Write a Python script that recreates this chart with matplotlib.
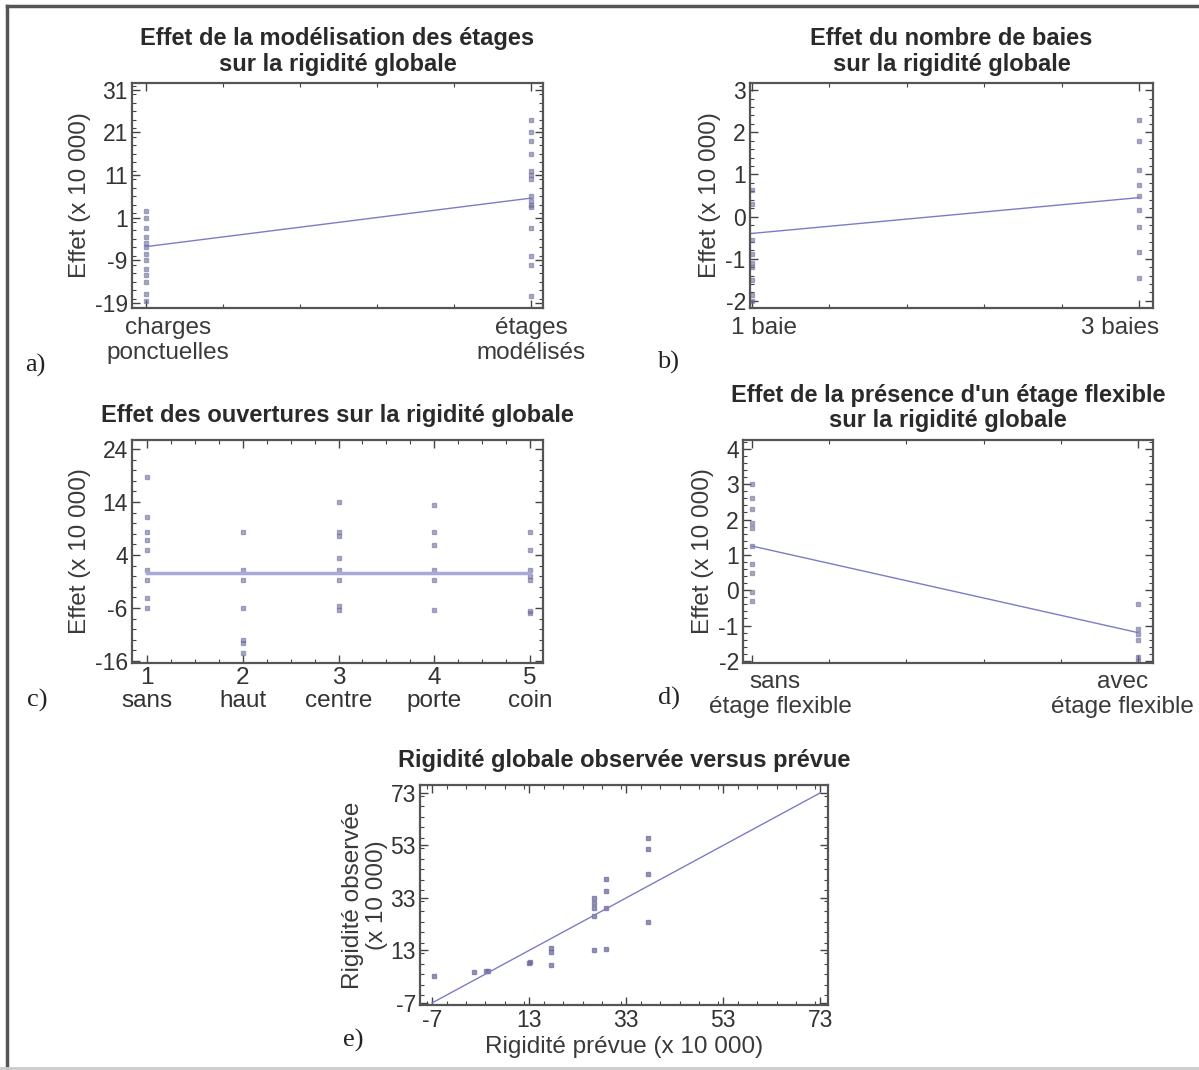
import matplotlib.pyplot as plt
from matplotlib.lines import Line2D
from matplotlib.ticker import MultipleLocator
import numpy as np

plt.rcParams['font.family'] = ['Liberation Sans', 'DejaVu Sans']
plt.rcParams['axes.unicode_minus'] = False

# a) modelisation des etages
a_left = [2.5, 1.0, -1.5, -3.5, -5.0, -6.0, -7.5, -9.0, -11.0, -12.5, -14.0, -17.0, -18.5]
a_right = [24.0, 21.0, 19.0, 16.0, 12.0, 11.0, 10.0, 6.0, 5.0, 4.0, 3.5, -1.5, -8.0, -10.0, -17.5]
a_fit = [-5.8, 5.6]

# b) nombre de baies
b_left = [0.62, 0.3, -0.55, -0.9, -1.1, -1.2, -1.5, -1.85, -2.0]
b_right = [2.3, 1.8, 1.1, 0.75, 0.5, 0.15, -0.25, -0.85, -1.45]
b_fit = [-0.4, 0.45]

# c) ouvertures
c_labels = ['sans', 'haut', 'centre', 'porte', 'coin']
c_points = [
    [18.7, 11.2, 8.4, 6.8, 5.0, 1.2, -0.7, -4.1, -6.0],
    [8.4, 1.2, -0.7, -6.0, -12.0, -12.6, -14.5],
    [14.0, 8.4, 7.5, 3.4, 1.2, -0.7, -5.7, -6.3],
    [13.4, 8.4, 5.9, 1.2, -0.7, -6.3],
    [8.4, 5.0, 1.2, 0.0, -0.7, -6.6, -7.0],
]
c_fit = 0.6

# d) etage flexible
d_left = [3.0, 2.6, 2.3, 1.9, 1.75, 1.25, 0.75, 0.5, -0.05, -0.3]
d_right = [-0.4, -1.1, -1.25, -1.4, -1.9, -2.0]
d_fit = [1.25, -1.2]

# e) observee vs prevue
e_pred = [-6.7, 1.7, 4.1, 4.6, 13.0, 13.2, 17.6, 17.6, 17.6, 26.3, 26.3, 26.3, 26.3, 26.3,
          28.8, 28.8, 28.8, 28.8, 37.5, 37.5, 37.5, 37.5]
e_obs = [3.1, 4.7, 5.1, 5.1, 8.3, 8.6, 13.8, 12.5, 7.5, 33.0, 31.0, 29.0, 26.0, 13.3,
         40.2, 35.6, 29.0, 13.6, 55.8, 51.7, 42.2, 24.0]
e_line = [-7, 73]

pt_color = '#6a6a9a'
ln_color = '#7c7cc6'
fs = 16.5   # tick labels
lfs = 17.5  # category labels / axis labels


def style_axes(ax, xmajor, xminor, ymajor, yminor):
    ax.xaxis.set_major_locator(MultipleLocator(xmajor))
    ax.xaxis.set_minor_locator(MultipleLocator(xminor))
    ax.yaxis.set_major_locator(MultipleLocator(ymajor))
    ax.yaxis.set_minor_locator(MultipleLocator(yminor))
    ax.tick_params(which='both', direction='in', top=True, right=True, colors='#444444',
                   labelcolor='#333333', labelsize=fs)
    ax.tick_params(which='major', length=6, width=1, pad=3)
    ax.tick_params(which='minor', length=3, width=0.8)
    for s in ax.spines.values():
        s.set_color('#555555')
        s.set_linewidth(1.6)


fig = plt.figure(figsize=(11.99, 10.70), dpi=100)
W, H = 1199, 1070


def add_axes(left, top, right, bottom):
    return fig.add_axes([left / W, 1 - bottom / H, (right - left) / W, (bottom - top) / H])


title_kw = dict(fontsize=17, fontweight='bold', color='#2a2a2a', linespacing=1.15)
lab_kw = dict(fontsize=lfs, color='#3a3a3a', linespacing=1.2)
ms = dict(marker='s', ls='none', ms=2.2, color=pt_color, alpha=0.55)

# ---- a ----
ax = add_axes(132, 83, 543, 308)
ax.plot([1] * len(a_left), a_left, **ms)
ax.plot([2] * len(a_right), a_right, **ms)
ax.plot([1, 2], a_fit, color=ln_color, lw=1)
ax.set_xlim(0.964, 2.03)
ax.set_ylim(-20.2, 32.6)
style_axes(ax, 1, 0.2, 10, 2)
ax.set_yticks([-19, -9, 1, 11, 21, 31])
ax.set_xticklabels([])
ax.set_ylabel('Effet (x 10 000)', fontsize=lfs, color='#3a3a3a', labelpad=3)
ax.set_title('Effet de la modélisation des étages\nsur la rigidité globale', pad=9, **title_kw)
tr = ax.get_xaxis_transform()
ax.text(1.057, -0.04, 'charges\nponctuelles', transform=tr, ha='center', va='top', **lab_kw)
ax.text(2.0, -0.04, 'étages\nmodélisés', transform=tr, ha='center', va='top', **lab_kw)

# ---- b ----
ax = add_axes(750, 83, 1153, 308)
ax.plot([1] * len(b_left), b_left, **ms)
ax.plot([2] * len(b_right), b_right, **ms)
ax.plot([1, 2], b_fit, color=ln_color, lw=1)
ax.set_xlim(0.995, 2.036)
ax.set_ylim(-2.17, 3.17)
style_axes(ax, 1, 0.2, 1, 0.2)
ax.set_xticklabels([])
ax.set_ylabel('Effet (x 10 000)', fontsize=lfs, color='#3a3a3a', labelpad=3)
ax.set_title('Effet du nombre de baies\nsur la rigidité globale', pad=9, **title_kw)
tr = ax.get_xaxis_transform()
ax.text(1.03, -0.04, '1 baie', transform=tr, ha='center', va='top', **lab_kw)
ax.text(1.95, -0.04, '3 baies', transform=tr, ha='center', va='top', **lab_kw)

# ---- c ----
ax = add_axes(132, 440, 543, 663)
for i, vals in enumerate(c_points):
    ax.plot([i + 1] * len(vals), vals, **ms)
ax.plot([1, 5], [c_fit, c_fit], color='#a8a8dc', lw=2.5)
ax.set_xlim(0.843, 5.136)
ax.set_ylim(-16.4, 25.7)
style_axes(ax, 1, 0.25, 10, 2)
ax.set_yticks([-16, -6, 4, 14, 24])
ax.set_xticks([1, 2, 3, 4, 5])
ax.set_xticklabels([f'{i + 1}\n{n}' for i, n in enumerate(c_labels)], linespacing=1.05,
                   fontsize=lfs)
ax.tick_params(axis='x', pad=3)
ax.set_ylabel('Effet (x 10 000)', fontsize=lfs, color='#3a3a3a', labelpad=3)
ax.set_title('Effet des ouvertures sur la rigidité globale', pad=13, **title_kw)

# ---- d ----
ax = add_axes(743, 440, 1153, 663)
ax.plot([1] * len(d_left), d_left, **ms)
ax.plot([2] * len(d_right), d_right, **ms)
ax.plot([1, 2], d_fit, color=ln_color, lw=1)
ax.set_xlim(0.977, 2.039)
ax.set_ylim(-2.06, 4.25)
style_axes(ax, 1, 0.2, 1, 0.2)
ax.set_xticklabels([])
ax.set_ylabel('Effet (x 10 000)', fontsize=lfs, color='#3a3a3a', labelpad=3)
ax.set_title("Effet de la présence d'un étage flexible\nsur la rigidité globale", pad=9, **title_kw)
tr = ax.get_xaxis_transform()
ax.text(1.06, -0.035, 'sans', transform=tr, ha='center', va='top', **lab_kw)
ax.annotate('étage flexible', xy=(1.075, -0.035), xycoords=tr, xytext=(0, -18.5),
            textcoords='offset points', ha='center', va='top', **lab_kw)
ax.text(1.96, -0.035, 'avec\nétage flexible', transform=tr, ha='center', va='top', **lab_kw)

# ---- e ----
ax = add_axes(420, 785, 828, 1005)
ax.plot(e_pred, e_obs, marker='s', ls='none', ms=3, color=pt_color, alpha=0.7)
ax.plot(e_line, e_line, color=ln_color, lw=1)
ax.set_xlim(-9.5, 74.6)
ax.set_ylim(-7.8, 76)
style_axes(ax, 20, 4, 20, 4)
ax.set_xticks([-7, 13, 33, 53, 73])
ax.set_yticks([-7, 13, 33, 53, 73])
ax.set_xlabel('Rigidité prévue (x 10 000)', fontsize=lfs, color='#3a3a3a', labelpad=3)
ax.set_ylabel('Rigidité observée\n(x 10 000)', fontsize=lfs, color='#3a3a3a', linespacing=1.1,
              labelpad=2)
ax.set_title('Rigidité globale observée versus prévue', pad=13, **title_kw)

# panel letters
for txt, x, y in [('a)', 25, 365), ('b)', 657, 362), ('c)', 27, 700), ('d)', 658, 698), ('e)', 343, 1040)]:
    fig.text(x / W, 1 - y / H, txt, fontsize=19, family='Liberation Serif', color='#222222',
             va='center')

# figure frame
fig.add_artist(Line2D([7 / W, 7 / W], [0, 1 - 6 / H], color='#555555', lw=2.5))
fig.add_artist(Line2D([7 / W, 1], [1 - 6 / H, 1 - 6 / H], color='#555555', lw=2.5))
fig.add_artist(Line2D([0, 1], [2 / H, 2 / H], color='#cccccc', lw=2))

fig.savefig('out.png', dpi=100)
